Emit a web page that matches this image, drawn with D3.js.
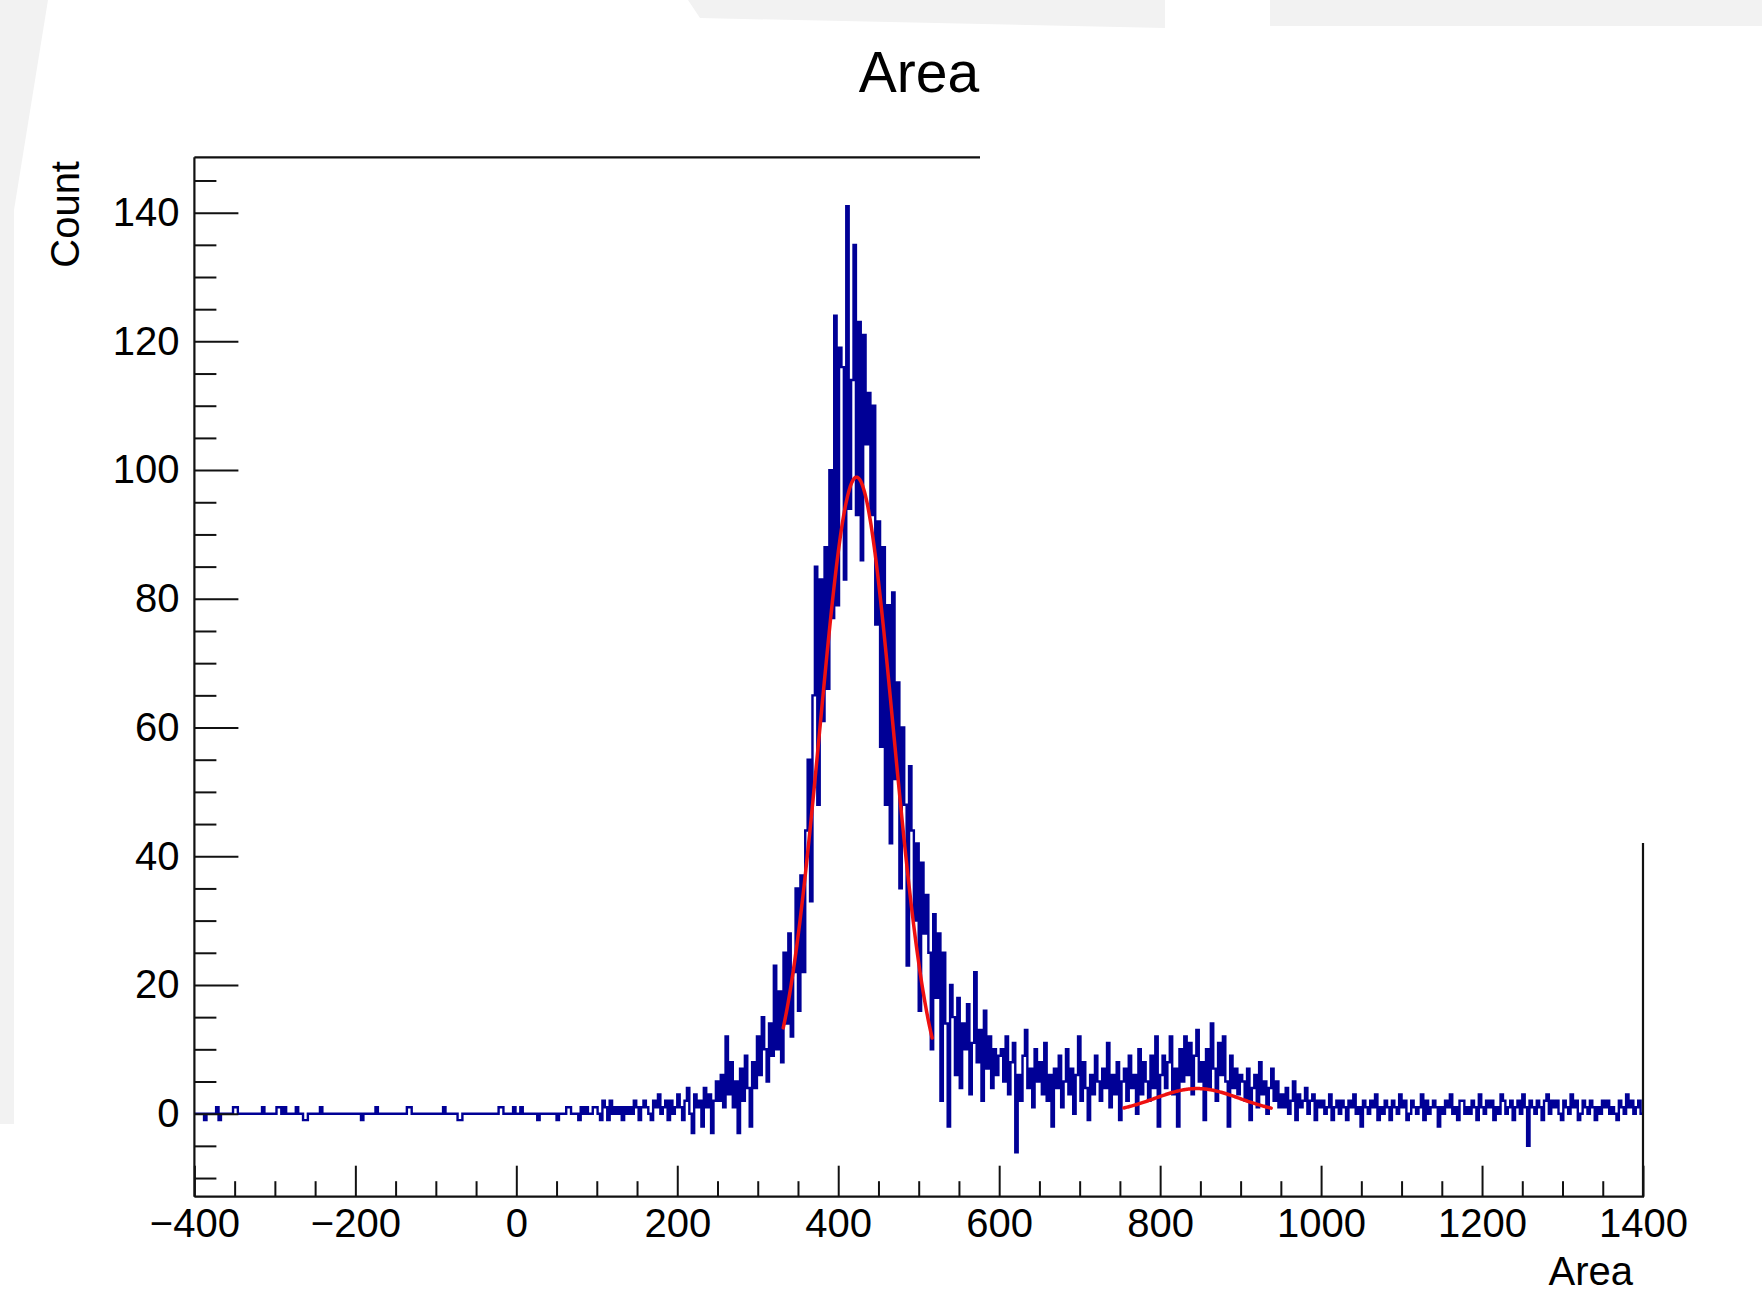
<!DOCTYPE html>
<html><head><meta charset="utf-8">
<script src="https://cdn.jsdelivr.net/npm/d3@7"></script>
<style>
html,body{margin:0;padding:0;background:#fff;}
svg{display:block;}
text{font-family:"Liberation Sans",Arial,Helvetica,sans-serif;fill:#000;}
</style>
</head><body>
<svg id="chart" width="1762" height="1306"></svg>
<script>
// ---------- data ----------
const xRange = [-400, 1400];          // histogram axis range
const yRange = [-12.9, 148.6];        // displayed count range
const nBins = 600;
const counts = [
  // -400 .. 110
  0,0,0,0,-1,0,0,0,0,1,
  -1,0,0,0,0,0,1,1,0,0,
  0,0,0,0,0,0,0,0,1,0,
  0,0,0,0,1,1,0,1,0,0,
  0,0,1,0,0,-1,-1,0,0,0,
  0,0,1,0,0,0,0,0,0,0,
  0,0,0,0,0,0,0,0,0,-1,
  0,0,0,0,0,1,0,0,0,0,
  0,0,0,0,0,0,0,0,1,1,
  0,0,0,0,0,0,0,0,0,0,
  0,0,0,1,0,0,0,0,0,-1,
  -1,0,0,0,0,0,0,0,0,0,
  0,0,0,0,0,0,1,1,0,0,
  0,0,1,0,0,1,0,0,0,0,
  0,0,-1,0,0,0,0,0,0,0,
  -1,0,0,0,1,1,0,0,0,-1,
  1,0,1,0,0,1,1,0,-1,2,
  // 110 .. 200
  1,-1,2,0,1,0,1,-1,1,0,
  1,0,2,1,-1,1,2,1,0,-1,
  2,1,3,0,1,2,-1,2,0,1,
  // 200 .. 251
  3,1,-1,2,4,0,-3,3,1,2,
  -2,4,1,3,-3,2,5,
  // 251 .. 290
  2,6,1,12,3,8,1,5,-3,7,2,9,4,
  // 290 .. 320
  -2,8,4,12,6,15,10,5,14,9,
  // 320 .. 347
  23,10,19,8,25,14,28,12,22,
  // 347 .. 362
  35,16,37,22,44,
  // 362 .. 377
  55,33,65,85,48,
  // 377 .. 392
  83,61,88,66,100,
  // 392 .. 404
  77,124,79,119,
  // 404 .. 419
  116,83,141,94,114,
  // 419 .. 434
  135,93,123,86,121,
  // 434 .. 449
  104,112,93,110,76,
  // 449 .. 464
  92,57,88,48,79,
  // 464 .. 482
  42,81,52,
  67,35,60,
  // 482 .. 512
  48,23,54,44,30,
  42,16,39,28,34,
  // 512 .. 560
  25,10,31,18,28,
  2,25,14,-2,20,
  15,6,18,4,14,10,
  // 560 .. 602
  17,3,11,22,8,13,2,16,7,12,4,10,6,9,
  // 602 .. 650
  10,5,12,3,8,11,-6,6,2,9,13,4,7,1,10,5,
  // 650 .. 755
  8,3,11,2,6,-2,7,4,9,1,
  5,10,3,7,0,6,12,2,8,4,
  -1,6,3,9,5,2,7,4,11,1,
  6,3,8,-1,5,
  // 755 .. 803
  7,2,9,4,6,0,10,3,8,5,2,9,4,12,-2,6,
  // 803 .. 902
  9,4,8,12,3,7,-2,10,5,12,
  6,11,3,9,13,5,8,-1,10,4,
  14,7,2,11,6,12,5,-2,9,4,
  7,3,6,
  // 902 .. 950
  5,2,7,-1,4,6,1,8,3,5,0,4,7,2,5,1,
  // 950 .. 1001
  3,1,4,0,2,5,-1,3,1,2,4,0,2,3,-1,2,1,
  // 1001 .. 1400
  2,0,1,3,-1,1,2,0,2,1,
  -1,2,1,3,0,1,-2,2,1,0,
  2,1,3,-1,1,0,2,1,-1,2,
  1,0,3,1,2,-1,0,2,1,0,
  1,3,-1,2,0,1,2,1,-2,1,
  0,2,1,3,0,1,-1,2,2,0,
  1,0,2,1,-1,3,1,0,2,1,
  2,-1,1,0,3,2,0,1,2,-1,
  1,2,0,3,1,-5,2,1,0,2,
  1,-1,2,3,0,2,1,2,0,-1,
  2,1,0,3,1,2,-1,0,2,1,
  0,2,1,-1,1,0,2,1,2,0,
  1,0,-1,2,1,0,3,1,2,0,
  1,2,0
];
if (counts.length !== nBins) console.error("bin count mismatch", counts.length);

// Gaussian fit results (amplitude, mean, sigma, fit range)
const fitAmplitudes = [98.9, 3.9];
const fitMeans      = [422.8, 846];
const fitSigmas     = [45.5, 53];
const fitRanges     = [[331.7, 517], [755, 938]];

const xMajorTicks = [-400,-200,0,200,400,600,800,1000,1200,1400];
const yMajorTicks = [0,20,40,60,80,100,120,140];
const xMinorStep = 50, yMinorStep = 5;

const titleText = "Area", xTitle = "Area", yTitle = "Count";

// ---------- layout ----------
const F = {left:194.4, right:1643, top:157.3, bottom:1196.7};
const svg = d3.select("#chart");

// screenshot background artifacts
svg.append("path").attr("d","M0,0 L48,0 L14,210 L14,1124 L0,1124 Z").attr("fill","#f2f2f2");
svg.append("path").attr("d","M688,0 L1165,0 L1165,28 L700,18 Z").attr("fill","#f2f2f2");
svg.append("path").attr("d","M1270,0 L1762,0 L1762,26 L1270,26 Z").attr("fill","#f2f2f2");

const x = d3.scaleLinear().domain(xRange).range([F.left, F.right]);
const y = d3.scaleLinear().domain(yRange).range([F.bottom, F.top]);

svg.append("defs").append("clipPath").attr("id","frameClip")
  .append("rect").attr("x",F.left).attr("y",F.top)
  .attr("width",F.right-F.left).attr("height",F.bottom-F.top);

// histogram (step outline)
const binW = (xRange[1]-xRange[0])/nBins;
const pts = [];
counts.forEach((v,i)=>{
  const lo = xRange[0]+i*binW, hi = lo+binW;
  pts.push([lo,v]); pts.push([hi,v]);
});
const line = d3.line().x(d=>x(d[0])).y(d=>y(d[1]));
svg.append("path").attr("clip-path","url(#frameClip)")
  .attr("d", line(pts)).attr("fill","none")
  .attr("stroke","#000096").attr("stroke-width",2.4);

// fit curves
fitMeans.forEach((m,k)=>{
  const [a,b] = fitRanges[k];
  const xs = d3.range(a, b+0.01, 1);
  const fpts = xs.map(t=>[t, fitAmplitudes[k]*Math.exp(-0.5*Math.pow((t-m)/fitSigmas[k],2))]);
  svg.append("path").attr("clip-path","url(#frameClip)")
    .attr("d", line(fpts)).attr("fill","none")
    .attr("stroke","#ee1111").attr("stroke-width",3.5)
    .attr("stroke-linejoin","round").attr("stroke-linecap","round");
});

// axes
const xMinor = d3.range(xRange[0], xRange[1]+1, xMinorStep).filter(v=>!xMajorTicks.includes(v));
const yMinor = d3.range(-10, yRange[1], yMinorStep).filter(v=>!yMajorTicks.includes(v));

function styleAxis(g){
  g.select(".domain").remove();
  g.selectAll(".tick line").attr("stroke","#111").attr("stroke-width",2);
  g.selectAll("text").attr("font-size",40).attr("font-family","Liberation Sans, Arial, sans-serif").attr("fill","#000");
}
svg.append("g").attr("transform",`translate(0,${F.bottom})`)
  .call(d3.axisBottom(x).tickValues(xMajorTicks).tickSize(-31).tickPadding(12).tickFormat(d3.format("d")))
  .call(styleAxis);
svg.append("g").attr("transform",`translate(0,${F.bottom})`)
  .call(d3.axisBottom(x).tickValues(xMinor).tickSize(-15.5).tickFormat(""))
  .call(styleAxis);
svg.append("g").attr("transform",`translate(${F.left},0)`)
  .call(d3.axisLeft(y).tickValues(yMajorTicks).tickSize(-44).tickPadding(15).tickFormat(d3.format("d")))
  .call(styleAxis);
svg.append("g").attr("transform",`translate(${F.left},0)`)
  .call(d3.axisLeft(y).tickValues(yMinor).tickSize(-22).tickFormat(""))
  .call(styleAxis);

// frame (partially hidden in the original screenshot)
const fr = svg.append("g").attr("stroke","#111").attr("stroke-width",2.2).attr("fill","none");
fr.append("line").attr("x1",F.left).attr("x2",F.left).attr("y1",F.top).attr("y2",F.bottom);
fr.append("line").attr("x1",F.left).attr("x2",F.right+1).attr("y1",F.bottom).attr("y2",F.bottom);
fr.append("line").attr("x1",F.left).attr("x2",980).attr("y1",F.top).attr("y2",F.top);
fr.append("line").attr("x1",F.right).attr("x2",F.right).attr("y1",843).attr("y2",F.bottom);

// titles
svg.append("text").attr("x",919).attr("y",92).attr("text-anchor","middle")
  .attr("font-size",57).text(titleText);
svg.append("text").attr("x",1633).attr("y",1285).attr("text-anchor","end")
  .attr("font-size",40).text(xTitle);
svg.append("text").attr("transform","translate(79,161) rotate(-90)").attr("text-anchor","end")
  .attr("font-size",40).text(yTitle);
</script>
</body></html>
